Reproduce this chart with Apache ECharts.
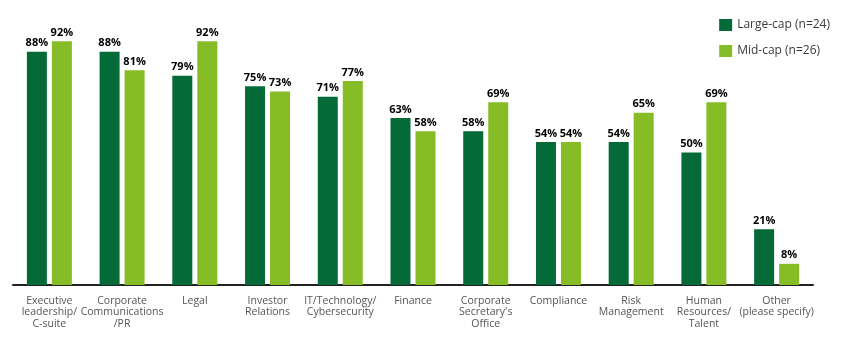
<!DOCTYPE html>
<html><head><meta charset="utf-8">
<script src="https://cdn.jsdelivr.net/npm/echarts@6/dist/echarts.min.js"></script>
<style>html,body{margin:0;padding:0;background:#fff}#c{width:852px;height:344px}</style>
</head><body><div id="c"></div>
<script>
const categories = ["Executive\nleadership/\nC-suite","Corporate\nCommunications\n/PR","Legal","Investor\nRelations","IT/Technology/\nCybersecurity","Finance","Corporate\nSecretary's\nOffice","Compliance","Risk\nManagement","Human\nResources/\nTalent","Other\n(please specify)"];
const largeCap = [88,88,79,75,71,63,58,54,54,50,21];
const midCap = [92,81,92,73,77,58,69,54,65,69,8];
const seriesNames = ["Large-cap (n=24)","Mid-cap (n=26)"];

const chart = echarts.init(document.getElementById('c'), null, {renderer:'canvas'});
const lbl = {show:true, position:'top', distance:3, formatter:'{c}%', fontFamily:'Open Sans', fontWeight:'bold', fontSize:11, color:'#000'};
chart.setOption({
  animation:false,
  textStyle:{fontFamily:'Open Sans'},
  legend:{orient:'vertical', right:17, top:14, padding:5, itemWidth:13, itemHeight:12, itemGap:14, icon:'rect',
    textStyle:{fontFamily:'Open Sans', fontSize:12, color:'#3a3a3a'}, data:seriesNames},
  grid:{left:13, right:39, top:20, bottom:59},
  xAxis:{type:'category', data:categories,
    axisLine:{lineStyle:{color:'#222', width:2}}, axisTick:{show:false},
    axisLabel:{interval:0, fontFamily:'Open Sans', fontSize:10.5, color:'#555', lineHeight:11.5, margin:10}},
  yAxis:{type:'value', min:0, max:100, show:false, splitLine:{show:false}},
  series:[
    {name:seriesNames[0], type:'bar', data:largeCap, barWidth:20, barGap:'25%', itemStyle:{color:'#046A38'}, label:lbl},
    {name:seriesNames[1], type:'bar', data:midCap, barWidth:20, barGap:'25%', itemStyle:{color:'#86BC25'}, label:lbl}
  ]
});
</script></body></html>
